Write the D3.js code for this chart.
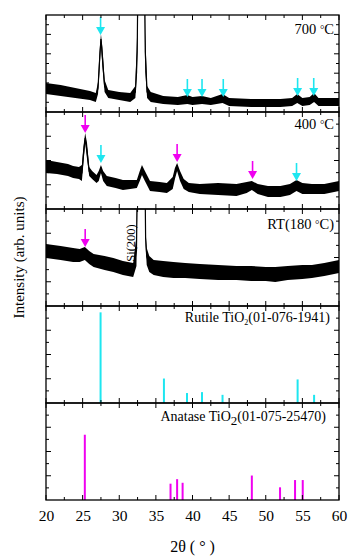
<!DOCTYPE html>
<html>
<head>
<meta charset="utf-8">
<script src="https://cdn.jsdelivr.net/npm/d3@7"></script>
<style>
  body { margin: 0; background: #fff; }
  text { font-family: "Liberation Serif", "Times New Roman", serif; fill: #000; }
</style>
</head>
<body>
<div id="chart"></div>
<script>
// 2theta ticks
var xTicks = [20, 25, 30, 35, 40, 45, 50, 55, 60];

// 700 C pattern: 2theta, lower / upper edge of the noisy trace (arb. units)
var tt700 = [20, 22, 24, 26, 26.8, 27.1, 27.3, 27.5, 27.7, 28.0, 28.5, 30, 31.5, 32.2, 32.45, 32.6, 33.4, 33.55, 33.8, 34.3, 36, 38, 39.3, 40, 41.3, 42.5, 44.1, 45, 48, 52, 53.6, 54.3, 55, 56, 56.6, 57.2, 60];
var lo700 = [18, 16, 14, 12, 10, 18, 40, 68, 45, 20, 14, 12, 10, 14, 40, 150, 150, 40, 14, 10, 8, 7, 8, 7, 8, 7, 9, 6, 5, 5, 6, 9, 6, 7, 10, 6, 6];
var hi700 = [29, 27, 24, 21, 19, 30, 60, 78, 65, 32, 22, 20, 19, 26, 80, 200, 200, 80, 26, 20, 16, 15, 17, 15, 16, 14, 18, 14, 13, 13, 14, 18, 14, 15, 19, 14, 14];

// 400 C pattern
var tt400 = [20, 21.5, 23, 23.7, 24.5, 24.9, 25.1, 25.35, 25.6, 25.9, 26.3, 26.9, 27.2, 27.5, 27.8, 28.3, 29.5, 30.5, 31.5, 32.4, 32.8, 33.1, 33.5, 34.2, 35.5, 36.5, 37.3, 37.6, 37.9, 38.3, 38.8, 39.5, 41, 43.5, 46, 47.4, 48.1, 48.9, 50.3, 52, 53.3, 54.2, 55, 56.3, 58, 60];
var lo400 = [36, 35, 33, 31, 30, 28, 45, 66, 50, 33, 30, 26, 28, 36, 28, 23, 21, 19, 20, 21, 28, 34, 28, 18, 17, 16, 20, 30, 38, 28, 20, 17, 15, 14, 13, 16, 19, 15, 12, 12, 14, 18, 15, 15, 15, 18];
var hi400 = [49, 47, 45, 43, 42, 44, 62, 76, 66, 42, 38, 34, 38, 44, 38, 33, 31, 29, 29, 29, 38, 44, 38, 28, 27, 26, 32, 41, 46, 38, 30, 26, 25, 26, 25, 27, 28, 25, 23, 23, 25, 29, 26, 25, 25, 28];

// RT (180 C) pattern
var ttRT = [20, 22, 23.7, 24.6, 25.3, 25.9, 26.5, 28, 29.2, 30.5, 31.9, 32.35, 32.55, 33.45, 33.6, 33.75, 34.1, 34.7, 36, 37.4, 39, 41, 43.5, 46, 48, 50, 51.3, 53, 55, 56.3, 58, 60];
var loRT = [48, 46, 44, 44, 46, 42, 39, 36, 34, 31, 29, 40, 150, 150, 60, 41, 34, 31, 29, 28, 28, 27, 26, 26, 25, 25, 24, 26, 27, 28, 30, 33];
var hiRT = [62, 60, 58, 57, 59, 55, 52, 50, 48, 45, 43, 70, 200, 200, 75, 58, 50, 46, 45, 44, 43, 42, 41, 40, 40, 39, 39, 40, 41, 41, 43, 46];

// reference cards
var rutilePos = [27.45, 36.1, 39.25, 41.3, 44.1, 54.35, 56.6];
var rutileInt = [100, 27, 11, 12, 9, 26, 9];
var anatasePos = [25.3, 37.0, 37.9, 38.65, 48.1, 51.95, 54.0, 55.05];
var anataseInt = [72, 18, 23, 19, 27, 14, 22, 22];

// peak markers: 2theta, intensity at arrow tip, phase
var arrowPos700 = [27.45, 39.3, 41.3, 44.2, 54.35, 56.55];
var arrowInt700 = [77, 15, 15, 15, 16, 16];
var arrowPhase700 = ["R", "R", "R", "R", "R", "R"];
var arrowPos400 = [25.35, 27.5, 37.9, 48.2, 54.2];
var arrowInt400 = [76, 46, 47, 30, 28];
var arrowPhase400 = ["A", "R", "A", "A", "R"];
var arrowPosRT = [25.35];
var arrowIntRT = [59];
var arrowPhaseRT = ["A"];

var cyan = "#1ee6f0", magenta = "#f000f0";

var W = 349, H = 557;
var mLeft = 46, mRight = 339, mTop = 15, ph = 97;

var svg = d3.select("#chart").append("svg")
  .attr("width", W).attr("height", H);

var x = d3.scaleLinear().domain([20, 60]).range([mLeft, mRight]);

var panels = [
  { type: "xrd", tt: tt700, lo: lo700, hi: hi700, ap: arrowPos700, ai: arrowInt700, ak: arrowPhase700, label: ["700 ", "°", "C"], ly: 19, yTicks: 10 },
  { type: "xrd", tt: tt400, lo: lo400, hi: hi400, ap: arrowPos400, ai: arrowInt400, ak: arrowPhase400, label: ["400 ", "°", "C"], ly: 17, yTicks: 8 },
  { type: "xrd", tt: ttRT, lo: loRT, hi: hiRT, ap: arrowPosRT, ai: arrowIntRT, ak: arrowPhaseRT, label: ["RT(180 ", "°", "C)"], ly: 20, yTicks: 8 },
  { type: "ref", pos: rutilePos, val: rutileInt, color: cyan, name: "Rutile TiO", code: "(01-076-1941)", yTicks: 8 },
  { type: "ref", pos: anatasePos, val: anataseInt, color: magenta, name: "Anatase TiO", code: "(01-075-25470)", yTicks: 8 }
];

panels.forEach(function(p, i) {
  var y0 = mTop + i * ph;
  var g = svg.append("g");
  var clipId = "clip" + i;
  svg.append("clipPath").attr("id", clipId)
    .append("rect").attr("x", mLeft).attr("y", y0).attr("width", mRight - mLeft).attr("height", ph);

  var y = d3.scaleLinear().domain(p.type === "xrd" ? [0, 97] : [0, 107]).range([y0 + ph, y0]);
  var plot = g.append("g").attr("clip-path", "url(#" + clipId + ")");

  if (p.type === "xrd") {
    var rows = p.tt.map(function(t, k) { return { t: t, lo: p.lo[k], hi: p.hi[k] }; });
    var area = d3.area().x(d => x(d.t)).y0(d => y(d.lo)).y1(d => y(d.hi));
    plot.append("path").datum(rows).attr("d", area).attr("fill", "#000");
    var mid = d3.line().x(d => x(d.t)).y(d => y((d.lo + d.hi) / 2));
    plot.append("path").datum(rows).attr("d", mid)
      .attr("fill", "none").attr("stroke", "#000").attr("stroke-width", 1.2);

    // arrows
    p.ap.forEach(function(t, k) {
      var c = p.ak[k] === "A" ? magenta : cyan;
      var tx = x(t), ty = y(p.ai[k]);
      g.append("line").attr("x1", tx).attr("x2", tx).attr("y1", ty - 18).attr("y2", ty - 6)
        .attr("stroke", c).attr("stroke-width", 1.6);
      g.append("path").attr("d", "M" + (tx - 4.5) + "," + (ty - 8) + "L" + (tx + 4.5) + "," + (ty - 8) + "L" + tx + "," + ty + "Z")
        .attr("fill", c);
    });

    var lab = g.append("text").attr("x", mRight - 5).attr("y", y0 + p.ly)
      .attr("text-anchor", "end").style("font-size", "14.5px");
    lab.append("tspan").text(p.label[0]);
    lab.append("tspan").text(p.label[1]).attr("dy", -1).style("font-size", "11px");
    lab.append("tspan").text(p.label[2]).attr("dy", 1);
  } else {
    plot.selectAll("line.stick").data(p.pos).enter().append("line")
      .attr("class", "stick")
      .attr("x1", d => x(d)).attr("x2", d => x(d))
      .attr("y1", y(0)).attr("y2", (d, k) => y(p.val[k]))
      .attr("stroke", p.color).attr("stroke-width", 2);

    var lab2 = g.append("text").attr("x", i === 3 ? mRight - 9 : mRight - 13).attr("y", y0 + (i === 3 ? 16 : 18))
      .attr("text-anchor", "end").style("font-size", "14px");
    lab2.append("tspan").text(p.name);
    lab2.append("tspan").text("2").attr("dy", i === 3 ? 3 : 4).style("font-size", i === 3 ? "8px" : "13px");
    lab2.append("tspan").text(p.code).attr("dy", i === 3 ? -3 : -4);
  }

  // x ticks on top and bottom of each panel, pointing inward
  var xt = d3.range(20, 60.01, 2.5);
  xt.forEach(function(t) {
    var len = (t % 5 === 0) ? 5 : 3;
    g.append("line").attr("x1", x(t)).attr("x2", x(t)).attr("y1", y0).attr("y2", y0 + len)
      .attr("stroke", "#000").attr("stroke-width", 1);
    g.append("line").attr("x1", x(t)).attr("x2", x(t)).attr("y1", y0 + ph).attr("y2", y0 + ph - len)
      .attr("stroke", "#000").attr("stroke-width", 1);
  });
  // y ticks left and right
  d3.range(1, p.yTicks).forEach(function(k) {
    var yy = y0 + ph - k * ph / p.yTicks;
    var len = (k % 2 === 0) ? 5 : 3;
    g.append("line").attr("x1", mLeft).attr("x2", mLeft + len).attr("y1", yy).attr("y2", yy)
      .attr("stroke", "#000");
    g.append("line").attr("x1", mRight).attr("x2", mRight - len).attr("y1", yy).attr("y2", yy)
      .attr("stroke", "#000");
  });

  g.append("rect").attr("x", mLeft).attr("y", y0).attr("width", mRight - mLeft).attr("height", ph)
    .attr("fill", "none").attr("stroke", "#000").attr("stroke-width", 1.3);
});

// Si(200) label in the RT panel
svg.append("text")
  .attr("transform", "translate(" + (x(32.6) - 8) + "," + (mTop + 2 * ph + 34) + ") rotate(-90)")
  .attr("text-anchor", "middle").attr("dy", "0.35em")
  .style("font-size", "12.5px").text("Si(200)");

// bottom axis labels
var xAxis = d3.axisBottom(x).tickValues(xTicks).tickSize(0).tickPadding(10);
svg.append("g").attr("transform", "translate(0," + (mTop + 5 * ph) + ")").call(xAxis)
  .call(g => g.select(".domain").remove())
  .selectAll("text").style("font-size", "15.5px")
  .style("font-family", "Liberation Serif, serif").attr("fill", "#000");

svg.append("text").attr("x", (mLeft + mRight) / 2).attr("y", 552)
  .attr("text-anchor", "middle").style("font-size", "16px").text("2θ ( ° )");

svg.append("text")
  .attr("transform", "translate(24," + (mTop + 2.5 * ph) + ") rotate(-90)")
  .attr("text-anchor", "middle").style("font-size", "15px")
  .text("Intensity (arb. units)");
</script>
</body>
</html>
